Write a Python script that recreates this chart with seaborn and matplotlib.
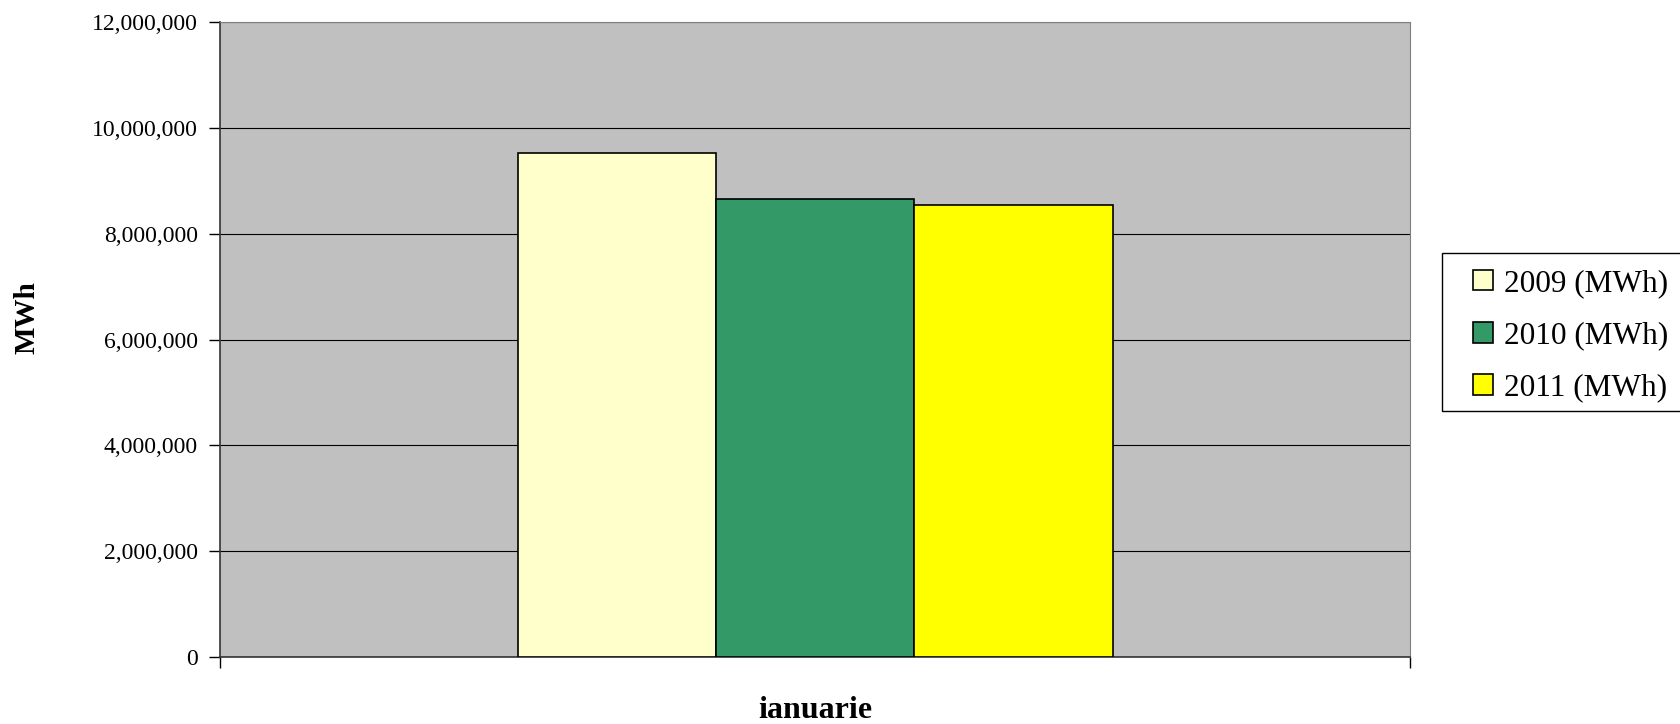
import pandas as pd
import seaborn as sns
import matplotlib.pyplot as plt
from matplotlib.patches import Rectangle
from matplotlib.ticker import FuncFormatter

# values
months = ['ianuarie']
series = ['2009 (MWh)', '2010 (MWh)', '2011 (MWh)']
v2009 = [9530000]
v2010 = [8648000]
v2011 = [8546000]
colors = ['#FFFFCC', '#339966', '#FFFF00']

df = pd.DataFrame({
    'luna': months * 3,
    'serie': [series[0]] * len(v2009) + [series[1]] * len(v2010) + [series[2]] * len(v2011),
    'MWh': v2009 + v2010 + v2011,
})

sns.set_style('white')
plt.rcParams['font.family'] = ['Liberation Serif', 'DejaVu Serif']
plt.rcParams.update({'text.color': 'black', 'axes.labelcolor': 'black',
                     'xtick.color': 'black', 'ytick.color': 'black'})

W, H = 1681, 724
fig = plt.figure(figsize=(W / 100, H / 100), dpi=100)
ax = fig.add_axes([220 / W, 1 - 657 / H, (1410 - 220) / W, (657 - 22) / H])
ax.set_facecolor('#C0C0C0')

sns.barplot(data=df, x='luna', y='MWh', hue='serie', palette=colors, saturation=1,
            width=0.5, edgecolor='black', linewidth=1.2, ax=ax, zorder=3)

ax.set_ylim(0, 12000000)
ax.set_yticks(range(0, 12000001, 2000000))
ax.yaxis.set_major_formatter(FuncFormatter(lambda v, p: f'{int(v):,}'))
ax.grid(axis='y', color='black', linewidth=0.8, zorder=1)
ax.set_axisbelow(True)
ax.set_xlim(-0.5, 0.5)

ax.tick_params(axis='y', direction='out', length=8, width=1, labelsize=17, pad=8, left=True)
ax.tick_params(axis='x', which='major', length=0, labelsize=23, pad=28)
ax.set_xticks([-0.5, 0.5], minor=True)
ax.tick_params(axis='x', which='minor', direction='out', length=8, width=1, bottom=True)
for lbl in ax.get_xticklabels():
    lbl.set_fontweight('bold')

ax.set_xlabel('')
ax.set_ylabel('MWh', fontsize=21, fontweight='bold')
ax.yaxis.set_label_coords(-0.151, 0.534)

for s in ['top', 'right']:
    ax.spines[s].set_color('#808080')
for s in ['left', 'bottom']:
    ax.spines[s].set_color('#333333')
    ax.spines[s].set_linewidth(1.2)

# legend frame drawn separately so it can run off the right edge like the original
ax.add_patch(Rectangle((1442 / W, 1 - 411 / H), 260 / W, (411 - 253) / H,
                       transform=fig.transFigure, facecolor='white', clip_on=False,
                       edgecolor='black', linewidth=1, zorder=5))
leg = ax.legend(loc='upper left', bbox_to_anchor=(1473 / W, 1 - 269 / H), bbox_transform=fig.transFigure,
                borderaxespad=0, borderpad=0, frameon=False, fontsize=22.5,
                handlelength=0.65, handleheight=0.65, handletextpad=0.33, labelspacing=0.74)
leg.set_zorder(6)

plt.savefig('out.png', dpi=100)
